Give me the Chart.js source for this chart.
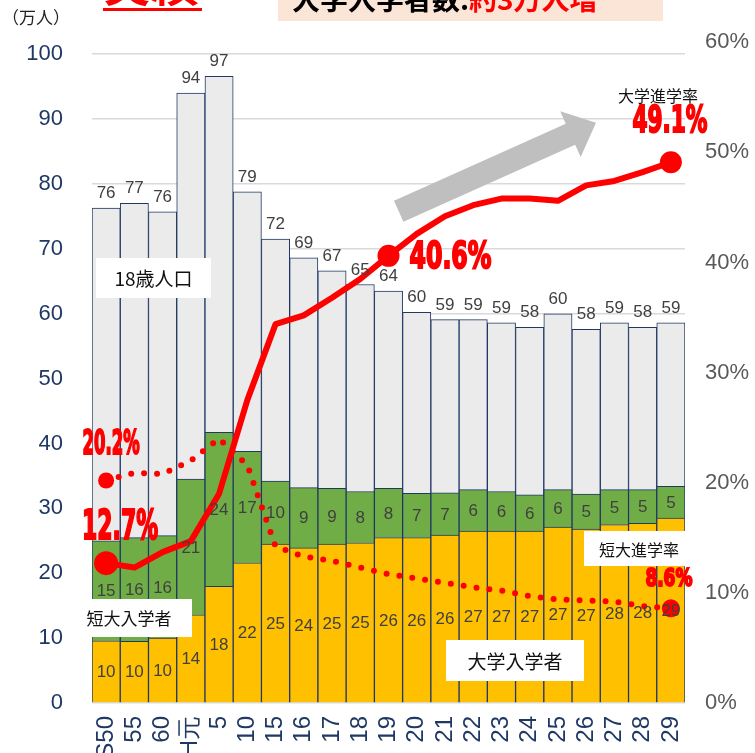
<!DOCTYPE html>
<html lang="ja">
<head>
<meta charset="utf-8">
<script src="https://cdn.jsdelivr.net/npm/chart.js@4.4.0/dist/chart.umd.min.js"></script>
<style>
  html, body { margin: 0; padding: 0; background: #fff; overflow: hidden; }
  #wrap { position: relative; width: 755px; height: 753px; overflow: hidden; }
  canvas { display: block; }
</style>
</head>
<body>
<div id="wrap"><canvas id="chart" width="755" height="790"></canvas></div>
<script>
// 年度 (昭和50年〜平成29年)
const years = ['S50', '55', '60', 'H元', '5', '10', '15', '16', '17', '18', '19', '20', '21', '22', '23', '24', '25', '26', '27', '28', '29'];

// 万人
const population = [76.3, 77.0, 75.7, 94.0, 96.6, 78.8, 71.5, 68.6, 66.6, 64.5, 63.5, 60.2, 59.1, 59.1, 58.6, 57.9, 60.0, 57.6, 58.6, 57.9, 58.6];
const univEntrants = [9.6, 9.5, 10.0, 13.6, 18.0, 21.6, 24.5, 23.9, 24.5, 24.7, 25.5, 25.5, 25.9, 26.5, 26.5, 26.5, 27.1, 26.8, 27.5, 27.7, 28.5];
const jcEntrants = [15.4, 16.0, 15.8, 20.9, 23.7, 17.2, 9.7, 9.3, 8.6, 7.9, 7.6, 6.8, 6.5, 6.4, 6.1, 5.6, 5.8, 5.4, 5.4, 5.2, 4.9];

// %
const univRate = [12.7, 12.3, 13.7, 14.7, 19.0, 27.5, 34.4, 35.2, 36.8, 38.5, 40.6, 42.6, 44.2, 45.2, 45.8, 45.8, 45.6, 47.0, 47.4, 48.2, 49.1];
const jcRate = [20.2, 20.9, 20.8, 22.0, 24.0, 21.6, 14.2, 13.3, 12.9, 12.3, 11.7, 11.3, 10.9, 10.5, 10.2, 9.7, 9.4, 9.3, 9.2, 8.8, 8.6];

const leftTicks = [0, 100, 10];   // min, max label, step
const rightTicks = [0, 60, 10];

const NAVY = '#1F3864';
const JP = '"Noto Sans CJK JP", "Noto Sans", sans-serif';
const NUM = '"Liberation Sans", Arial, sans-serif';
const last = years.length - 1;

// big condensed red numbers
function condensed(ctx, text, cx, cy, size, width) {
    ctx.save();
    ctx.font = 'bold ' + size + 'px "DejaVu Sans Condensed", "DejaVu Sans", sans-serif';
    const w = ctx.measureText(text).width;
    ctx.translate(cx, cy);
    ctx.scale(width / w, 1);
    ctx.fillStyle = '#FF0000';
    ctx.strokeStyle = '#FF0000';
    ctx.lineWidth = 2;
    ctx.textAlign = 'center';
    ctx.textBaseline = 'middle';
    ctx.strokeText(text, 0, 0);
    ctx.fillText(text, 0, 0);
    ctx.restore();
}

function labelBox(ctx, text, x, y, w, h, size) {
    ctx.fillStyle = '#fff';
    ctx.fillRect(x, y, w, h);
    ctx.fillStyle = '#111';
    ctx.font = size + 'px ' + JP;
    ctx.textAlign = 'center';
    ctx.textBaseline = 'middle';
    ctx.fillText(text, x + w / 2, y + h / 2 + 1);
}

function arrow(ctx, tx, ty, px, py, hw, hh, hl) {
    const len = Math.hypot(px - tx, py - ty);
    const ux = (px - tx) / len, uy = (py - ty) / len;
    const nx = -uy, ny = ux;
    const hx = px - ux * hl, hy = py - uy * hl;
    ctx.save();
    ctx.fillStyle = '#BFBFBF';
    ctx.beginPath();
    ctx.moveTo(tx - nx * hw, ty - ny * hw);
    ctx.lineTo(hx - nx * hw, hy - ny * hw);
    ctx.lineTo(hx - nx * hh, hy - ny * hh);
    ctx.lineTo(px, py);
    ctx.lineTo(hx + nx * hh, hy + ny * hh);
    ctx.lineTo(hx + nx * hw, hy + ny * hw);
    ctx.lineTo(tx + nx * hw, ty + ny * hw);
    ctx.closePath();
    ctx.fill();
    ctx.restore();
}

const valueLabels = {
    id: 'valueLabels',
    afterDatasetsDraw(chart) {
        const ctx = chart.ctx;
        ctx.save();
        ctx.font = '17px ' + NUM;
        ctx.fillStyle = '#404040';
        ctx.textAlign = 'center';

        chart.getDatasetMeta(0).data.forEach((el, i) => {
            ctx.textBaseline = 'alphabetic';
            ctx.fillText(Math.round(population[i]), el.x, el.y - 10);
        });
        [[1, univEntrants], [2, jcEntrants]].forEach(([idx, vals]) => {
            chart.getDatasetMeta(idx).data.forEach((el, i) => {
                ctx.textBaseline = 'middle';
                ctx.fillText(Math.round(vals[i]), el.x, (el.y + el.base) / 2 + 1);
            });
        });
        ctx.restore();
    },
    afterDraw(chart) {
        const ctx = chart.ctx;
        ctx.save();

        // header (cut by the window top)
        ctx.fillStyle = '#FBE5D6';
        ctx.fillRect(278, 0, 385, 21);
        ctx.font = 'bold 28px ' + JP;
        ctx.textBaseline = 'alphabetic';
        ctx.textAlign = 'left';
        ctx.fillStyle = '#000';
        const head = '大学入学者数:';
        ctx.fillText(head, 292, 10);
        ctx.fillStyle = '#FF0000';
        ctx.fillText('約3万人増', 292 + ctx.measureText(head).width, 10);

        ctx.font = 'bold 48px ' + JP;
        ctx.fillText('実績', 103, 1);
        ctx.fillRect(103, 8, 99, 3);

        ctx.fillStyle = '#222';
        ctx.font = '17px ' + JP;
        ctx.textBaseline = 'middle';
        ctx.fillText('（万人）', 2, 18);

        // arrow
        arrow(ctx, 398.7, 211.2, 596, 122.7, 11.5, 25, 28);

        // series name boxes
        labelBox(ctx, '18歳人口', 96, 258, 115, 40, 19);
        labelBox(ctx, '短大入学者', 66, 599, 126, 38, 17);
        labelBox(ctx, '大学入学者', 446, 640, 138, 41, 19);
        labelBox(ctx, '短大進学率', 584, 531, 110, 35, 16);

        ctx.fillStyle = '#111';
        ctx.font = '16px ' + JP;
        ctx.textAlign = 'center';
        ctx.fillText('大学進学率', 658, 96);

        // rate callouts, tied to the line points
        const u = chart.getDatasetMeta(3).data;
        const j = chart.getDatasetMeta(4).data;
        condensed(ctx, univRate[0].toFixed(1) + '%', u[0].x + 14, u[0].y - 35, 41, 76);
        condensed(ctx, jcRate[0].toFixed(1) + '%', j[0].x + 5, j[0].y - 35, 34, 57);
        condensed(ctx, univRate[10].toFixed(1) + '%', u[10].x + 62, u[10].y + 3, 37, 82);
        condensed(ctx, univRate[last].toFixed(1) + '%', u[last].x - 1, u[last].y - 40, 37, 75);
        condensed(ctx, jcRate[last].toFixed(1) + '%', j[last].x - 2, j[last].y - 29, 25, 47);

        ctx.restore();
    }
};

const barStyle = {
    borderColor: '#203864',
    borderWidth: 1,
    barPercentage: 1,
    categoryPercentage: 1,
    grouped: false
};

new Chart(document.getElementById('chart'), {
    type: 'bar',
    data: {
        labels: years,
        datasets: [
            { label: '18歳人口', data: population, backgroundColor: '#EBEBEB', stack: 'g', order: 2, ...barStyle },
            { label: '大学入学者', data: univEntrants, backgroundColor: '#FFC000', stack: 's', order: 1, ...barStyle },
            { label: '短大入学者', data: jcEntrants, backgroundColor: '#70AD47', stack: 's', order: 1, ...barStyle },
            {
                type: 'line', label: '大学進学率', data: univRate, yAxisID: 'y1', order: 0,
                borderColor: '#FF0000', borderWidth: 6, tension: 0, fill: false,
                borderJoinStyle: 'round',
                pointBackgroundColor: '#FF0000', pointBorderWidth: 0,
                pointRadius: c => c.dataIndex === 0 ? 12 : c.dataIndex === 10 ? 11 : c.dataIndex === last ? 11 : 0
            },
            {
                type: 'line', label: '短大進学率', data: jcRate, yAxisID: 'y1', order: 0,
                borderColor: '#FF0000', borderWidth: 6, tension: 0, fill: false,
                borderDash: [0, 13], borderCapStyle: 'round',
                pointBackgroundColor: '#FF0000', pointBorderWidth: 0,
                pointRadius: c => c.dataIndex === 0 ? 8 : c.dataIndex === last ? 9 : 0
            }
        ]
    },
    options: {
        responsive: false,
        animation: false,
        devicePixelRatio: 1,
        layout: { padding: { top: 41, left: 0, right: 0, bottom: 0 } },
        plugins: { legend: { display: false }, tooltip: { enabled: false } },
        scales: {
            x: {
                stacked: true,
                offset: true,
                grid: { display: false, drawTicks: false },
                border: { display: false },
                ticks: {
                    autoSkip: false, minRotation: 90, maxRotation: 90, padding: 13,
                    color: NAVY, font: { family: NUM, size: 24 }
                },
                afterFit: s => { s.height = 87; }
            },
            y: {
                position: 'left',
                stacked: true,
                min: leftTicks[0],
                max: 101.85,
                grid: { color: '#D9D9D9', lineWidth: 1.5, drawTicks: false },
                border: { display: false },
                ticks: {
                    stepSize: leftTicks[2], includeBounds: false, padding: 29,
                    color: NAVY, font: { family: NUM, size: 22 }
                },
                afterFit: s => { s.width = 92; }
            },
            y1: {
                position: 'right',
                stacked: false,
                min: rightTicks[0],
                max: rightTicks[1],
                grid: { display: false, drawTicks: false },
                border: { display: false },
                ticks: {
                    stepSize: rightTicks[2], padding: 20,
                    color: '#595959', font: { family: NUM, size: 22 },
                    callback: v => v + '%'
                },
                afterFit: s => { s.width = 70; }
            }
        }
    },
    plugins: [valueLabels]
});
</script>
</body>
</html>
